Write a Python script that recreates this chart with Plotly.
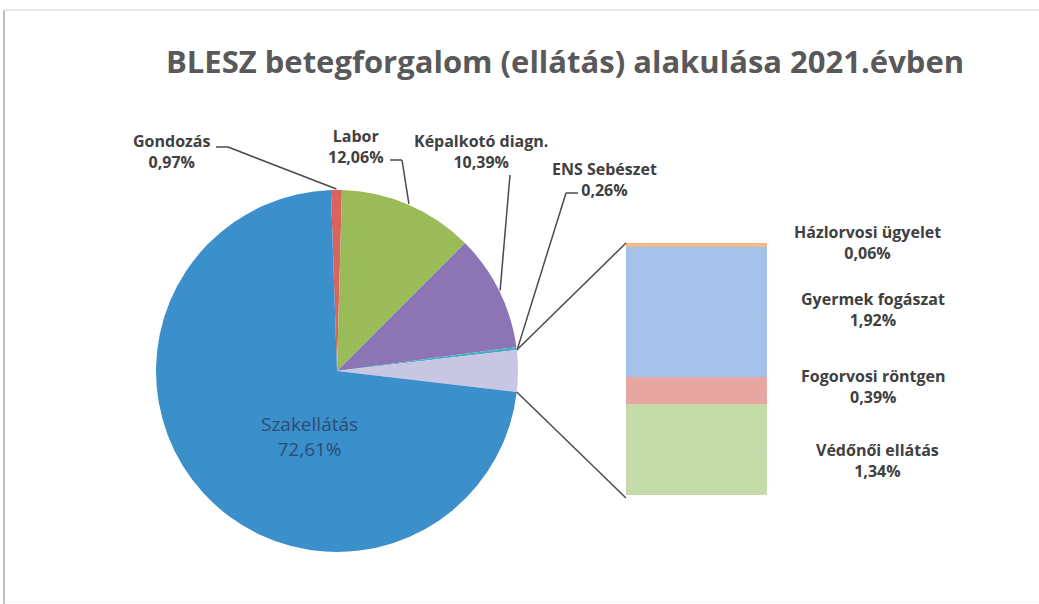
import math
import plotly.graph_objects as go

# ---------------- data ----------------
pie_labels = ["Gondozás", "Labor", "Képalkotó diagn.", "ENS Sebészet", "Egyéb", "Szakellátás"]
pie_main_values = {"Gondozás": 0.97, "Labor": 12.06, "Képalkotó diagn.": 10.39,
                   "ENS Sebészet": 0.26, "Szakellátás": 72.61}
bar_labels = ["Védőnői ellátás", "Fogorvosi röntgen", "Gyermek fogászat", "Házlorvosi ügyelet"]
bar_values = [1.34, 0.39, 1.92, 0.06]
title_text = "BLESZ betegforgalom (ellátás) alakulása 2021.évben"

other_total = sum(bar_values)
pie_values = [other_total if l == "Egyéb" else pie_main_values[l] for l in pie_labels]

def pct(v):
    return f"{v:.2f}".replace(".", ",") + "%"

# ---------------- layout geometry (pixels) ----------------
W, H = 1039, 604
def px(x):
    return x / W
def py(y):
    return 1 - y / H

CX, CY, R = 337, 371, 181          # pie centre / radius
BAR_L, BAR_R, BAR_T, BAR_B = 626, 767, 243, 495

pie_colors = ["#d9635e", "#9bbb59", "#8b75b5", "#4bacc6", "#c9c6e4", "#3b8fca"]
bar_colors = ["#c5dcaa", "#e8a6a3", "#a3c1e9", "#f5b88a"]
text_col = "#404040"
line_col = "#4a4a4a"
FONT = "Open Sans"
LABEL_SIZE = 16

total = sum(pie_values)
idx_other = pie_labels.index("Egyéb")
cum_before_other = sum(pie_values[:idx_other])
rotation = 90 - (cum_before_other + other_total / 2) / total * 360

def pie_point(frac, r=R):
    th = math.radians(rotation + frac * 360)
    return CX + r * math.sin(th), CY - r * math.cos(th)

cums = []
c = 0
for v in pie_values:
    cums.append(c)
    c += v

def mid_frac(label):
    i = pie_labels.index(label)
    return (cums[i] + pie_values[i] / 2) / total

fig = go.Figure()

# ---------------- pie ----------------
fig.add_trace(go.Pie(
    labels=pie_labels, values=pie_values, sort=False, direction="clockwise",
    rotation=rotation, marker=dict(colors=pie_colors, line=dict(width=0)),
    textinfo="none",
    domain=dict(x=[px(CX - R), px(CX + R)], y=[py(CY + R), py(CY - R)]),
    showlegend=False, hoverinfo="label+percent",
))

# ---------------- bar of pie ----------------
for lab, val, col in zip(bar_labels, bar_values, bar_colors):
    fig.add_trace(go.Bar(x=["Egyéb"], y=[val], name=lab, marker=dict(color=col, line=dict(width=0)),
                         showlegend=False, xaxis="x", yaxis="y"))

fig.update_layout(
    barmode="stack", bargap=0,
    xaxis=dict(domain=[px(BAR_L), px(BAR_R)], range=[-0.5, 0.5], visible=False, fixedrange=True),
    yaxis=dict(domain=[py(BAR_B), py(BAR_T)], range=[0, other_total], visible=False, fixedrange=True),
)

shapes = []
annotations = []

def seg(x0, y0, x1, y1, color=line_col, width=1.5):
    shapes.append(dict(type="line", xref="paper", yref="paper", x0=px(x0), y0=py(y0),
                       x1=px(x1), y1=py(y1), line=dict(color=color, width=width)))

# connectors from pie "other" slice to bar
p_top = pie_point(cum_before_other / total)
p_bot = pie_point((cum_before_other + other_total) / total)
seg(p_top[0], p_top[1], BAR_L, BAR_T)
seg(p_bot[0], p_bot[1], BAR_L, BAR_B + 3)

# label inside the big slice
iz = pie_labels.index("Szakellátás")
annotations.append(dict(xref="paper", yref="paper", x=px(309), y=py(436),
                        text=f"Szakellátás<br>{pct(pie_values[iz])}", showarrow=False,
                        xanchor="center", yanchor="middle", align="center",
                        font=dict(family=FONT, size=19, color="#2a4d78")))

# pie labels with leader lines
pie_label_pos = {
    "Gondozás": dict(xy=(172, 151), lead=[(216, 147), (228, 147)]),
    "Labor": dict(xy=(356, 146), lead=[(390, 160), (402, 160)]),
    "Képalkotó diagn.": dict(xy=(481, 152), lead=[(510, 175)]),
    "ENS Sebészet": dict(xy=(604, 179), lead=[(578, 193), (566, 193)]),
}
for lab, spec in pie_label_pos.items():
    i = pie_labels.index(lab)
    annotations.append(dict(xref="paper", yref="paper", x=px(spec["xy"][0]), y=py(spec["xy"][1]),
                            text=f"{lab}<br>{pct(pie_values[i])}", showarrow=False,
                            xanchor="center", yanchor="middle", align="center",
                            font=dict(family=FONT, size=LABEL_SIZE, color=text_col, weight="bold")))
    pts = spec["lead"] + [pie_point(mid_frac(lab), R + 1)]
    for a, b in zip(pts[:-1], pts[1:]):
        seg(a[0], a[1], b[0], b[1])

# bar labels with leader lines
bar_label_spec = {
    "Házlorvosi ügyelet": dict(x=867, yshift=3, lead=[(0, 0), (10, 6), (17, 6)]),
    "Gyermek fogászat": dict(x=873, yshift=3, lead=[(0, -1), (24, 5)]),
    "Fogorvosi röntgen": dict(x=873, yshift=4, lead=[(0, -2), (15, 4)]),
    "Védőnői ellátás": dict(x=877, yshift=-11, lead=[(0, -3), (25, -8), (39, -8)]),
}
cum = 0
for lab, val in zip(bar_labels, bar_values):
    mid = cum + val / 2
    cum += val
    spec = bar_label_spec[lab]
    annotations.append(dict(xref="paper", yref="y", x=px(spec["x"]), y=mid, yshift=spec["yshift"],
                            text=f"{lab}<br>{pct(val)}", showarrow=False,
                            xanchor="center", yanchor="middle", align="center",
                            font=dict(family=FONT, size=LABEL_SIZE, color=text_col, weight="bold")))
    pts = spec["lead"]
    for a, b in zip(pts[:-1], pts[1:]):
        shapes.append(dict(type="line", xref="x", yref="y", xsizemode="pixel", ysizemode="pixel",
                           xanchor=0.5, yanchor=mid, x0=a[0], y0=a[1], x1=b[0], y1=b[1],
                           line=dict(color=line_col, width=1.5)))

# chart frame (scanned page edges)
seg(4, 10, 4, 604, color="#a8a8a8", width=1.5)
seg(4, 10, 1039, 10, color="#e2e2e2", width=1.5)
seg(4, 602, 1039, 602, color="#efefef", width=1)

fig.update_layout(
    width=W, height=H, autosize=False,
    margin=dict(l=0, r=0, t=0, b=0),
    paper_bgcolor="white", plot_bgcolor="white",
    title=dict(text=title_text, x=px(565), y=py(62), xanchor="center", yanchor="middle",
               xref="paper", yref="paper",
               font=dict(family=FONT, size=31, color="#595959", weight="bold")),
    shapes=shapes, annotations=annotations, showlegend=False,
)

fig.write_html("out.html", config={"displayModeBar": False},
               post_script="document.body.style.margin='0';document.body.style.overflow='hidden';")
